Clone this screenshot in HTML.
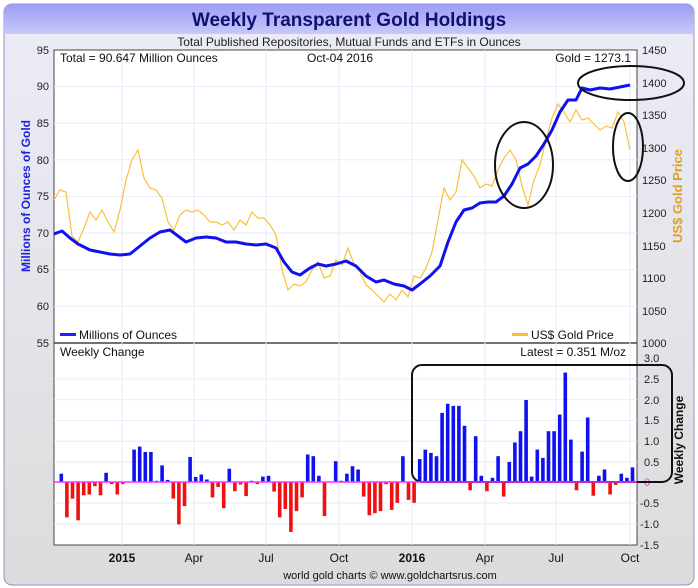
<!DOCTYPE html>
<html><head><meta charset="utf-8"><style>
body{margin:0;background:#fff;}
svg{display:block;font-family:"Liberation Sans",sans-serif;}
</style></head><body>
<svg width="698" height="588" viewBox="0 0 698 588" xmlns="http://www.w3.org/2000/svg">
<defs>
<linearGradient id="tg" x1="0" y1="0" x2="0" y2="1"><stop offset="0" stop-color="#9c9cf4"/><stop offset="1" stop-color="#c8c8fa"/></linearGradient>
<linearGradient id="bg" x1="0" y1="0" x2="0" y2="1"><stop offset="0" stop-color="#ececf8"/><stop offset="1" stop-color="#dcdcdc"/></linearGradient>
</defs>
<rect x="0" y="0" width="698" height="588" fill="#fff"/>
<rect x="4" y="4" width="690" height="581" rx="8" fill="url(#bg)" stroke="#9090c0"/>
<path d="M4 34 V12 Q4 4 12 4 H686 Q694 4 694 12 V34 Z" fill="url(#tg)"/>
<text x="349" y="26" text-anchor="middle" font-size="19" font-weight="bold" fill="#101070">Weekly Transparent Gold Holdings</text>
<text x="349" y="46" text-anchor="middle" font-size="12" fill="#222">Total Published Repositories, Mutual Funds and ETFs in Ounces</text>
<rect x="54" y="50" width="583" height="495" fill="#fff" stroke="#444"/>
<line x1="54" y1="343" x2="637" y2="343" stroke="#444" stroke-width="1.5"/>
<g stroke="#e4eef8" stroke-width="1">
<line x1="54" y1="86.6" x2="637" y2="86.6"/><line x1="54" y1="123.2" x2="637" y2="123.2"/><line x1="54" y1="159.8" x2="637" y2="159.8"/><line x1="54" y1="196.4" x2="637" y2="196.4"/><line x1="54" y1="233" x2="637" y2="233"/><line x1="54" y1="269.6" x2="637" y2="269.6"/><line x1="54" y1="306.2" x2="637" y2="306.2"/>
<line x1="122" y1="50" x2="122" y2="545"/><line x1="194" y1="50" x2="194" y2="545"/><line x1="266" y1="50" x2="266" y2="545"/><line x1="339" y1="50" x2="339" y2="545"/><line x1="412" y1="50" x2="412" y2="545"/><line x1="485" y1="50" x2="485" y2="545"/><line x1="556" y1="50" x2="556" y2="545"/><line x1="630" y1="50" x2="630" y2="545"/>
<line x1="54" y1="378.8" x2="637" y2="378.8"/><line x1="54" y1="399.6" x2="637" y2="399.6"/><line x1="54" y1="420.4" x2="637" y2="420.4"/><line x1="54" y1="441.2" x2="637" y2="441.2"/><line x1="54" y1="462" x2="637" y2="462"/><line x1="54" y1="503" x2="637" y2="503"/><line x1="54" y1="524" x2="637" y2="524"/>
</g>
<g font-size="11" fill="#222" text-anchor="end">
<text x="49" y="54">95</text><text x="49" y="90">90</text><text x="49" y="127">85</text><text x="49" y="164">80</text><text x="49" y="200">75</text><text x="49" y="237">70</text><text x="49" y="273">65</text><text x="49" y="310">60</text><text x="49" y="347">55</text>
</g>
<g font-size="11" fill="#222">
<text x="642" y="54">1450</text><text x="642" y="87">1400</text><text x="642" y="119">1350</text><text x="642" y="152">1300</text><text x="642" y="184">1250</text><text x="642" y="217">1200</text><text x="642" y="250">1150</text><text x="642" y="282">1100</text><text x="642" y="315">1050</text><text x="642" y="347">1000</text>
<text x="644" y="362">3.0</text><text x="644" y="383">2.5</text><text x="644" y="404">2.0</text><text x="644" y="424">1.5</text><text x="644" y="445">1.0</text><text x="644" y="466">0.5</text><text x="644" y="486" fill="#e040e0">0</text><text x="640" y="507">-0.5</text><text x="640" y="528">-1.0</text><text x="640" y="549">-1.5</text>
</g>
<text transform="translate(30,196) rotate(-90)" text-anchor="middle" font-size="12" font-weight="bold" fill="#2020e0">Millions of Ounces of Gold</text>
<text transform="translate(682,196) rotate(-90)" text-anchor="middle" font-size="13" font-weight="bold" fill="#e0a020">US$ Gold Price</text>
<text transform="translate(683,440) rotate(-90)" text-anchor="middle" font-size="12" font-weight="bold" fill="#111">Weekly Change</text>
<text x="60" y="62" font-size="12" fill="#111">Total = 90.647 Million Ounces</text>
<text x="307" y="62" font-size="12" fill="#111">Oct-04  2016</text>
<text x="631" y="62" font-size="12" fill="#111" text-anchor="end">Gold = 1273.1</text>
<text x="60" y="356" font-size="12" fill="#111">Weekly Change</text>
<text x="626" y="356" font-size="12" fill="#111" text-anchor="end">Latest = 0.351 M/oz</text>
<rect x="60" y="333" width="16" height="3" fill="#2020ff"/>
<text x="79" y="339" font-size="12" fill="#111">Millions of Ounces</text>
<rect x="512" y="333" width="16" height="3" fill="#f8c040"/>
<text x="531" y="339" font-size="12" fill="#111">US$ Gold Price</text>
<polyline fill="none" stroke="#fbbf3a" stroke-width="1.2" points="54,200 60,190 66,192 72,236 78,242 84,228 90,212 96,220 102,210 108,222 114,232 120,210 126,180 132,160 138,150 144,178 150,188 156,190 162,198 168,222 174,230 180,215 186,210 192,212 198,210 204,215 210,222 216,222 222,225 228,222 234,230 240,220 246,225 252,212 258,218 264,218 270,225 276,235 282,270 288,290 294,284 300,286 306,282 312,270 318,262 324,278 330,276 336,260 342,265 348,248 354,264 360,272 366,285 372,290 378,296 384,302 390,294 396,300 402,290 408,297 414,276 420,278 426,268 432,252 438,220 444,188 450,200 456,192 462,160 468,168 474,176 480,188 486,184 492,186 498,170 504,158 510,150 516,160 522,186 528,205 534,180 540,165 546,140 552,118 558,104 564,112 570,122 576,110 582,120 588,118 594,124 600,130 606,126 612,128 618,112 624,122 630,150"/>
<polyline fill="none" stroke="#1010f0" stroke-width="3" stroke-linejoin="round" points="54,234 62,231 70,238 78,244 90,250 100,252 110,254 120,255 130,254 140,246 150,238 160,232 170,230 178,236 186,242 196,238 206,237 216,238 226,242 236,242 246,244 256,245 266,244 276,248 284,262 292,272 300,275 310,268 318,264 326,266 336,264 346,261 356,266 366,276 376,282 384,280 394,284 404,286 412,290 420,284 430,276 440,266 448,242 456,222 464,210 472,208 480,203 488,202 496,202 504,196 512,184 520,168 528,164 536,156 544,144 552,130 560,112 568,100 576,100 582,88 590,90 600,88 610,89 620,87 630,85"/>
<ellipse cx="524" cy="165" rx="29" ry="43" fill="none" stroke="#111" stroke-width="2"/>
<ellipse cx="631" cy="83" rx="53" ry="17" fill="none" stroke="#111" stroke-width="2"/>
<ellipse cx="628" cy="147" rx="15" ry="34" fill="none" stroke="#111" stroke-width="2"/>
<g fill="#1010f0">
<rect x="59.5" y="473.7" width="3.6" height="8.3"/>
<rect x="104.3" y="472.8" width="3.6" height="9.2"/>
<rect x="132.3" y="449.6" width="3.6" height="32.4"/>
<rect x="137.9" y="446.6" width="3.6" height="35.4"/>
<rect x="143.5" y="452" width="3.6" height="30"/>
<rect x="149.1" y="452" width="3.6" height="30"/>
<rect x="154.7" y="480.8" width="3.6" height="1.2"/>
<rect x="160.3" y="465.4" width="3.6" height="16.6"/>
<rect x="165.9" y="479.9" width="3.6" height="2.1"/>
<rect x="188.3" y="457" width="3.6" height="25"/>
<rect x="193.9" y="477" width="3.6" height="5"/>
<rect x="199.5" y="474.5" width="3.6" height="7.5"/>
<rect x="205.1" y="479.5" width="3.6" height="2.5"/>
<rect x="227.5" y="468.7" width="3.6" height="13.3"/>
<rect x="249.9" y="480.8" width="3.6" height="1.2"/>
<rect x="261.1" y="476.6" width="3.6" height="5.4"/>
<rect x="266.7" y="475.8" width="3.6" height="6.2"/>
<rect x="305.9" y="454.5" width="3.6" height="27.5"/>
<rect x="311.5" y="456.2" width="3.6" height="25.8"/>
<rect x="317.1" y="475.8" width="3.6" height="6.2"/>
<rect x="333.9" y="461.2" width="3.6" height="20.8"/>
<rect x="339.5" y="480.8" width="3.6" height="1.2"/>
<rect x="345.1" y="473.7" width="3.6" height="8.3"/>
<rect x="350.7" y="466.2" width="3.6" height="15.8"/>
<rect x="356.3" y="469.5" width="3.6" height="12.5"/>
<rect x="401.1" y="456.2" width="3.6" height="25.8"/>
<rect x="417.9" y="459.1" width="3.6" height="22.9"/>
<rect x="423.5" y="449.6" width="3.6" height="32.4"/>
<rect x="429.1" y="452.9" width="3.6" height="29.1"/>
<rect x="434.7" y="456.2" width="3.6" height="25.8"/>
<rect x="440.3" y="412.9" width="3.6" height="69.1"/>
<rect x="445.9" y="403.8" width="3.6" height="78.2"/>
<rect x="451.5" y="405.9" width="3.6" height="76.1"/>
<rect x="457.1" y="405.9" width="3.6" height="76.1"/>
<rect x="462.7" y="425.8" width="3.6" height="56.2"/>
<rect x="473.9" y="436.2" width="3.6" height="45.8"/>
<rect x="479.5" y="475.8" width="3.6" height="6.2"/>
<rect x="490.7" y="477.8" width="3.6" height="4.2"/>
<rect x="496.3" y="456.2" width="3.6" height="25.8"/>
<rect x="507.5" y="462" width="3.6" height="20"/>
<rect x="513.1" y="442.5" width="3.6" height="39.5"/>
<rect x="518.7" y="431.2" width="3.6" height="50.8"/>
<rect x="524.3" y="400" width="3.6" height="82"/>
<rect x="529.9" y="476.6" width="3.6" height="5.4"/>
<rect x="535.5" y="449.6" width="3.6" height="32.4"/>
<rect x="541.1" y="457.9" width="3.6" height="24.1"/>
<rect x="546.7" y="431.2" width="3.6" height="50.8"/>
<rect x="552.3" y="431.2" width="3.6" height="50.8"/>
<rect x="557.9" y="414.6" width="3.6" height="67.4"/>
<rect x="563.5" y="372.6" width="3.6" height="109.4"/>
<rect x="569.1" y="439.6" width="3.6" height="42.4"/>
<rect x="580.3" y="451.6" width="3.6" height="30.4"/>
<rect x="585.9" y="417.5" width="3.6" height="64.5"/>
<rect x="597.1" y="475.8" width="3.6" height="6.2"/>
<rect x="602.7" y="469.5" width="3.6" height="12.5"/>
<rect x="619.5" y="473.7" width="3.6" height="8.3"/>
<rect x="625.1" y="477.8" width="3.6" height="4.2"/>
<rect x="630.7" y="467.4" width="3.6" height="14.6"/>
</g>
<g fill="#f01010">
<rect x="65.1" y="482" width="3.6" height="35.4"/>
<rect x="70.7" y="482" width="3.6" height="16.6"/>
<rect x="76.3" y="482" width="3.6" height="38.3"/>
<rect x="81.9" y="482" width="3.6" height="13.3"/>
<rect x="87.5" y="482" width="3.6" height="12.5"/>
<rect x="93.1" y="482" width="3.6" height="4.2"/>
<rect x="98.7" y="482" width="3.6" height="13.3"/>
<rect x="109.9" y="482" width="3.6" height="2.1"/>
<rect x="115.5" y="482" width="3.6" height="12.5"/>
<rect x="121.1" y="482" width="3.6" height="2.1"/>
<rect x="171.5" y="482" width="3.6" height="16.6"/>
<rect x="177.1" y="482" width="3.6" height="42.4"/>
<rect x="182.7" y="482" width="3.6" height="24.1"/>
<rect x="210.7" y="482" width="3.6" height="15.4"/>
<rect x="216.3" y="482" width="3.6" height="5"/>
<rect x="221.9" y="482" width="3.6" height="26.2"/>
<rect x="233.1" y="482" width="3.6" height="9.2"/>
<rect x="238.7" y="482" width="3.6" height="2.5"/>
<rect x="244.3" y="482" width="3.6" height="14.1"/>
<rect x="255.5" y="482" width="3.6" height="2.1"/>
<rect x="272.3" y="482" width="3.6" height="9.6"/>
<rect x="277.9" y="482" width="3.6" height="35.4"/>
<rect x="283.5" y="482" width="3.6" height="27"/>
<rect x="289.1" y="482" width="3.6" height="49.9"/>
<rect x="294.7" y="482" width="3.6" height="29.1"/>
<rect x="300.3" y="482" width="3.6" height="15.4"/>
<rect x="322.7" y="482" width="3.6" height="34.1"/>
<rect x="361.9" y="482" width="3.6" height="14.6"/>
<rect x="367.5" y="482" width="3.6" height="33.3"/>
<rect x="373.1" y="482" width="3.6" height="31.2"/>
<rect x="378.7" y="482" width="3.6" height="29.1"/>
<rect x="384.3" y="482" width="3.6" height="2.1"/>
<rect x="389.9" y="482" width="3.6" height="27.9"/>
<rect x="395.5" y="482" width="3.6" height="20.8"/>
<rect x="406.7" y="482" width="3.6" height="17.9"/>
<rect x="412.3" y="482" width="3.6" height="20.8"/>
<rect x="468.3" y="482" width="3.6" height="8.3"/>
<rect x="485.1" y="482" width="3.6" height="9.2"/>
<rect x="501.9" y="482" width="3.6" height="14.6"/>
<rect x="574.7" y="482" width="3.6" height="8.3"/>
<rect x="591.5" y="482" width="3.6" height="13.7"/>
<rect x="608.3" y="482" width="3.6" height="12.5"/>
<rect x="613.9" y="482" width="3.6" height="2.9"/>
</g>
<rect x="412" y="365" width="260" height="117" rx="10" fill="none" stroke="#111" stroke-width="2"/>
<line x1="54" y1="482" x2="637" y2="482" stroke="#ff30ff" stroke-width="1.5"/>
<g font-size="12" fill="#111" text-anchor="middle">
<text x="122" y="562" font-weight="bold">2015</text><text x="194" y="562">Apr</text><text x="266" y="562">Jul</text><text x="339" y="562">Oct</text><text x="412" y="562" font-weight="bold">2016</text><text x="485" y="562">Apr</text><text x="556" y="562">Jul</text><text x="630" y="562">Oct</text>
</g>
<text x="390" y="579" font-size="11" fill="#111" text-anchor="middle">world gold charts © www.goldchartsrus.com</text>
</svg>
</body></html>
